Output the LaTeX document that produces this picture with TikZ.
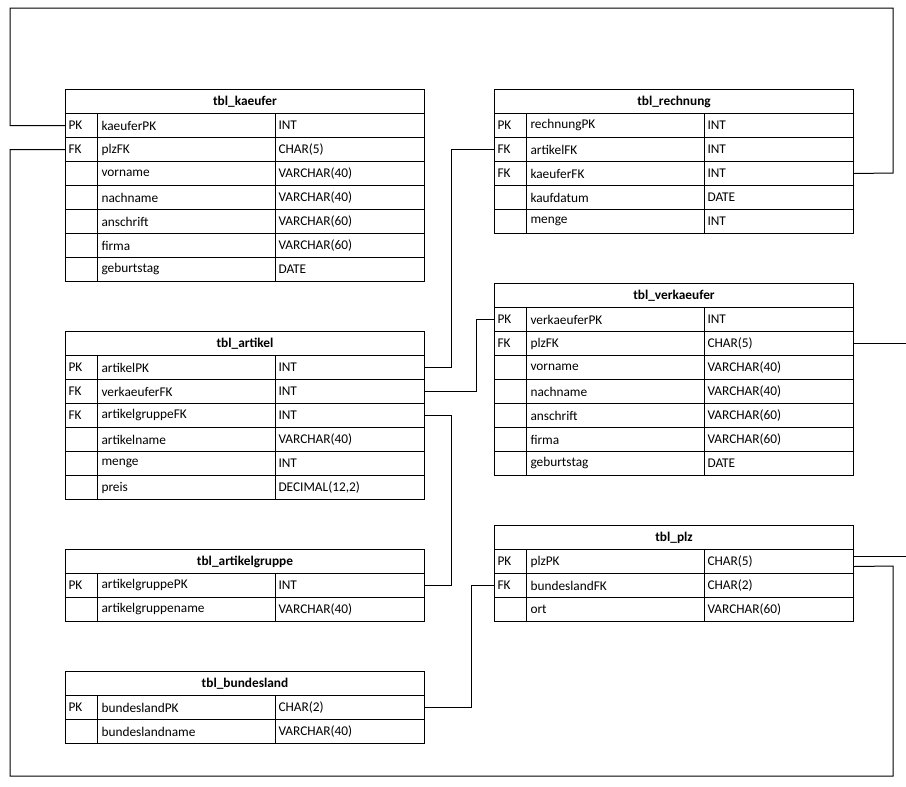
\documentclass[tikz,border=0pt]{standalone}
\usepackage{fontspec}
\setmainfont{Carlito}
\usetikzlibrary{calc}

\tikzset{
  tbltitle/.style={draw,anchor=north west,minimum width=269.25pt,minimum height=18pt,inner sep=0pt,font=\bfseries},
  tblrow/.style={draw,anchor=north west,minimum width=269.25pt,minimum height=18pt,inner sep=0pt},
  cell/.style={anchor=west,inner sep=0pt}
}

% #1 name, #2 x, #3 top, #4 title, #5 rows key/field/type
\newcommand\dbtable[5]{
  \node[tbltitle] (#1-t) at (#2,#3) {#4};
  \foreach \k/\f/\ty [count=\i] in {#5} {
    \node[tblrow] (#1-\i) at (#2,{#3+24*\i}) {};
    \node[cell] at ($(#1-\i.west)+(3,0)$) {\k};
    \node[cell] at ($(#1-\i.west)+(36,0)$) {\f};
    \node[cell] at ($(#1-\i.west)+(213,0)$) {\ty};
    \draw ($(#1-\i.north west)+(32,0)$) -- ++(0,24);
    \draw ($(#1-\i.north west)+(210,0)$) -- ++(0,24);
  }
}

\begin{document}
\begin{tikzpicture}[x=0.75pt,y=-0.75pt,line width=0.75pt]
\useasboundingbox (0,0) rectangle (906,786);

\dbtable{kaeufer}{65}{89}{tbl\_kaeufer}{PK/kaeuferPK/INT, FK/plzFK/CHAR(5), /vorname/VARCHAR(40), /nachname/VARCHAR(40), /anschrift/VARCHAR(60), /firma/VARCHAR(60), /geburtstag/DATE}
\dbtable{artikel}{65}{331}{tbl\_artikel}{PK/artikelPK/INT, FK/verkaeuferFK/INT, FK/artikelgruppeFK/INT, /artikelname/VARCHAR(40), /menge/INT, /preis/{DECIMAL(12,2)}}
\dbtable{artikelgruppe}{65}{549}{tbl\_artikelgruppe}{PK/artikelgruppePK/INT, /artikelgruppename/VARCHAR(40)}
\dbtable{bundesland}{65}{671}{tbl\_bundesland}{PK/bundeslandPK/CHAR(2), /bundeslandname/VARCHAR(40)}
\dbtable{rechnung}{494}{89}{tbl\_rechnung}{PK/rechnungPK/INT, FK/artikelFK/INT, FK/kaeuferFK/INT, /kaufdatum/DATE, /menge/INT}
\dbtable{verkaeufer}{494}{283}{tbl\_verkaeufer}{PK/verkaeuferPK/INT, FK/plzFK/CHAR(5), /vorname/VARCHAR(40), /nachname/VARCHAR(40), /anschrift/VARCHAR(60), /firma/VARCHAR(60), /geburtstag/DATE}
\dbtable{plz}{494}{525}{tbl\_plz}{PK/plzPK/CHAR(5), FK/bundeslandFK/CHAR(2), /ort/VARCHAR(60)}

% relations
\draw (kaeufer-1.west) -| (10,8) -| (893,173) -- (rechnung-3.east);
\draw (kaeufer-2.west) -| (10,776) -| (893,566) -- ($(plz-1.east)+(0,5)$);
\draw (artikel-1.east) -- ++(26,0) |- (rechnung-2.west);
\draw (artikel-2.east) -- ++(51,0) |- (verkaeufer-1.west);
\draw (artikel-3.east) -- ++(26,0) |- (artikelgruppe-1.east);
\draw (bundesland-1.east) -- ++(46,0) |- (plz-2.west);
\draw (verkaeufer-2.east) -- ++(52,0) |- ($(plz-1.east)+(0,-5)$);
\end{tikzpicture}
\end{document}
